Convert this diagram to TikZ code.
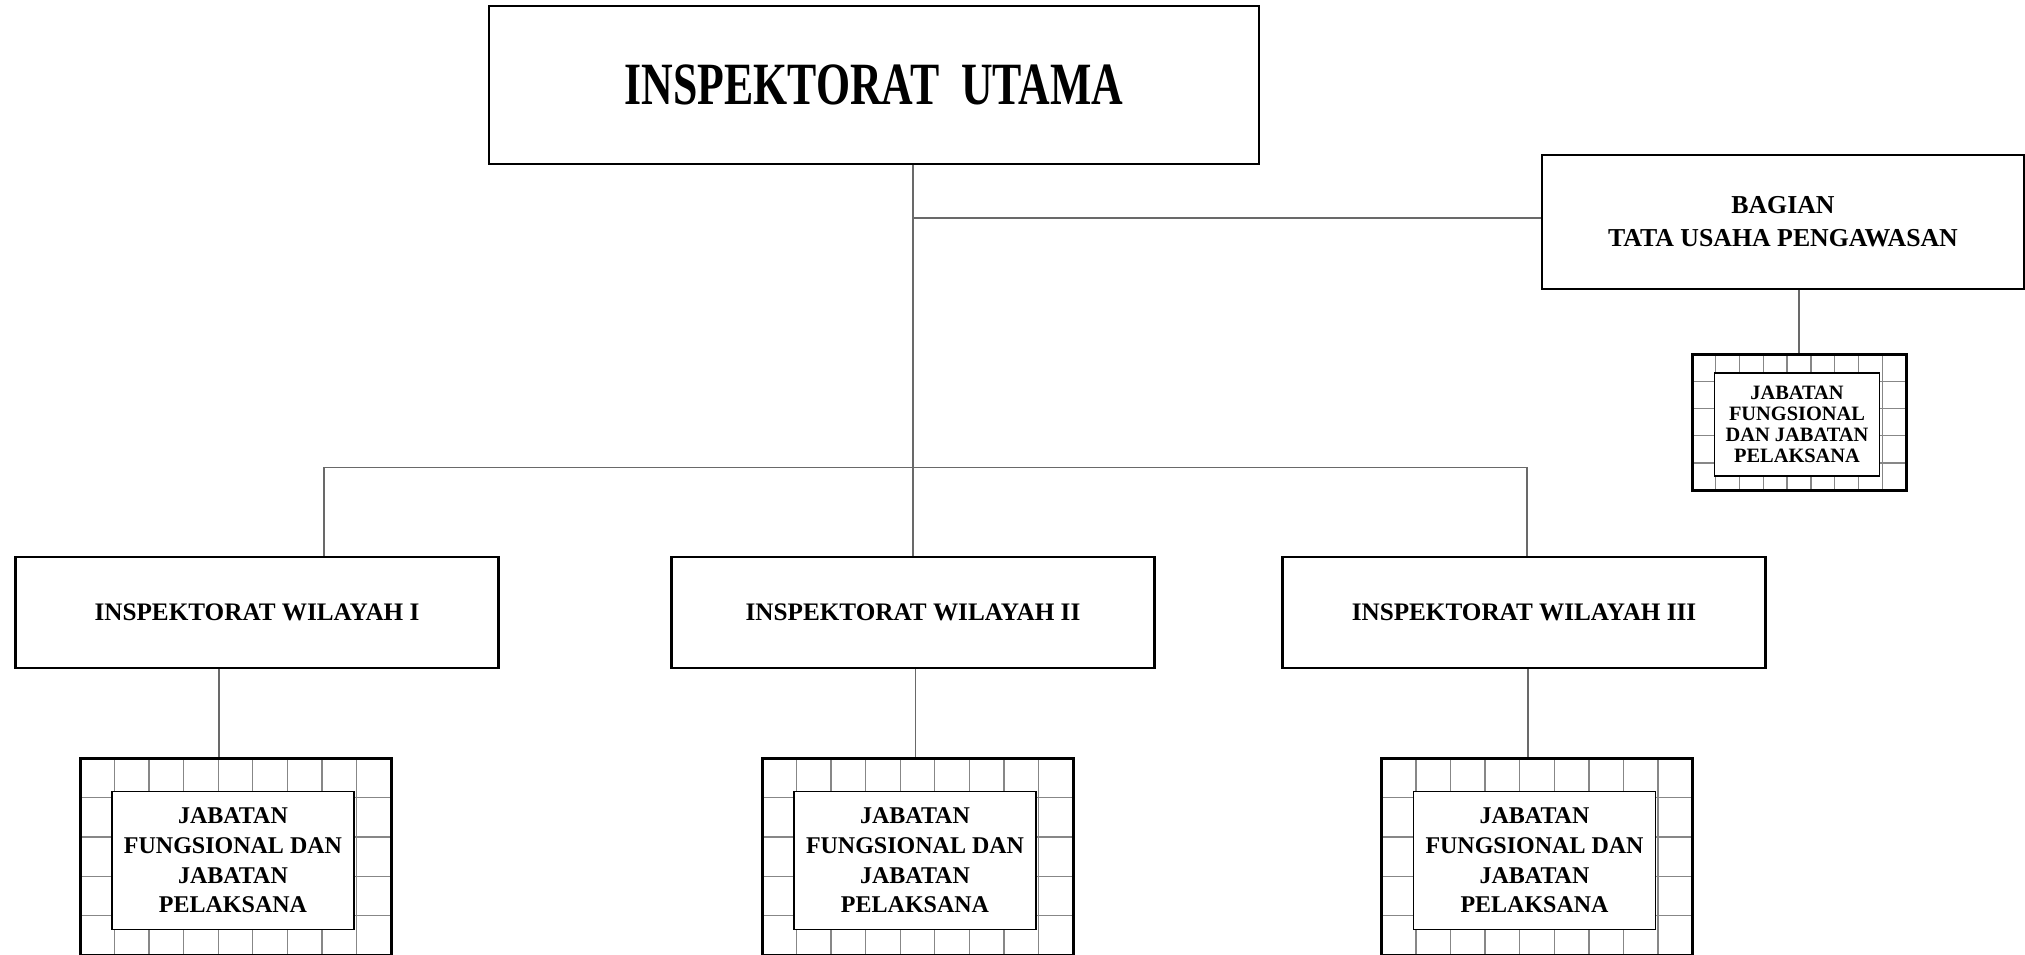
\documentclass[tikz,border=0pt]{standalone}
\usepackage{fontspec}
\setmainfont{Liberation Serif}
\newfontfamily\titlefont[FakeStretch=0.73]{Liberation Serif}
\usetikzlibrary{positioning,calc}
\definecolor{linegray}{RGB}{105,105,105}
\definecolor{gridgray}{RGB}{135,135,135}

\begin{document}
\begin{tikzpicture}[x=0.5pt,y=-0.5pt,
  unit/.style={draw,line width=1.2pt,inner sep=0pt,align=center,
    font=\fontsize{12.6}{16.5}\selectfont\bfseries},
  wil/.style={unit,minimum width=241.5pt,minimum height=55.5pt},
  brick/.style={draw,line width=1.5pt,inner sep=0pt,
    path picture={
      \foreach \i in {1,...,8}
        \draw[gridgray,line width=0.7pt]
          ($(path picture bounding box.north west)!\i/9!(path picture bounding box.north east)$) --
          ($(path picture bounding box.south west)!\i/9!(path picture bounding box.south east)$);
      \foreach \j in {1,...,4}
        \draw[gridgray,line width=0.7pt]
          ($(path picture bounding box.north west)!\j/5!(path picture bounding box.south west)$) --
          ($(path picture bounding box.north east)!\j/5!(path picture bounding box.south east)$);
    }},
  bigbrick/.style={brick,minimum width=155.5pt,minimum height=98.5pt},
  jab/.style={draw,fill=white,line width=0.8pt,inner sep=0pt,align=center},
  bigjab/.style={jab,minimum width=121pt,minimum height=69pt,
    font=\fontsize{12}{14.85}\selectfont\bfseries},
  link/.style={draw=linegray,line width=0.65pt}]

  \useasboundingbox (0,0) rectangle (2025,954);

  % top level
  \node[unit,minimum width=385pt,minimum height=78.75pt,font=\titlefont\fontsize{30}{36}\selectfont\bfseries]
    (utama) at (874,85) {INSPEKTORAT~~UTAMA};
  \node[unit,minimum width=241pt,minimum height=67pt,font=\fontsize{12.9}{16.5}\selectfont\bfseries]
    (bagian) at (1783,222) {BAGIAN\\TATA USAHA PENGAWASAN};

  \node[brick,minimum width=107pt,minimum height=68pt] (jab0) at (1799,422) {};
  \node[jab,minimum width=82.5pt,minimum height=51.5pt,
    font=\fontsize{10.2}{10.6}\selectfont\bfseries] (jabin0) at (1797,424.5)
    {JABATAN\\FUNGSIONAL\\DAN JABATAN\\PELAKSANA};

  % wilayah
  \node[wil] (wil1) at (257,612.5) {INSPEKTORAT WILAYAH I};
  \node[wil] (wil2) at (913,612.5) {INSPEKTORAT WILAYAH II};
  \node[wil] (wil3) at (1524,612.5) {INSPEKTORAT WILAYAH III};

  \node[bigbrick] (jab1) at (235.5,856.5) {};
  \node[bigbrick] (jab2) at (917.5,856.5) {};
  \node[bigbrick] (jab3) at (1537,856.5) {};
  \foreach \k in {1,2,3}
    \node[bigjab] (jabin\k) at ($(jab\k)+(-2.5,4)$)
      {JABATAN\\FUNGSIONAL DAN\\JABATAN\\PELAKSANA};

  % connectors
  \coordinate (busl) at (324,467.5);
  \coordinate (busr) at ([xshift=1.5pt]wil3.north);
  \coordinate (tap) at (913,218);
  \draw[link] (utama.south -| wil2.north) -- (wil2.north);
  \draw[link] (tap) -- (tap -| bagian.west);
  \draw[link] (busl |- wil1.north) -- (busl) -- (busl -| busr) -- (busr);
  \draw[link] (jab0.north) -- (jab0.north |- bagian.south);

  \draw[link] ([xshift=-19pt]wil1.south) -- ([xshift=-19pt]wil1.south |- jab1.north);
  \draw[link] ([xshift=1.3pt]wil2.south) -- ([xshift=1.3pt]wil2.south |- jab2.north);
  \draw[link] ([xshift=2pt]wil3.south) -- ([xshift=2pt]wil3.south |- jab3.north);

\end{tikzpicture}
\end{document}
